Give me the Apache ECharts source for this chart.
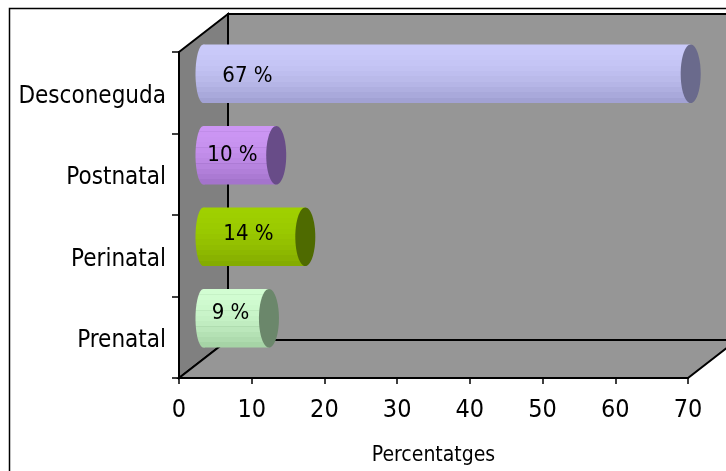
<!DOCTYPE html>
<html>
<head>
<meta charset="utf-8">
<script src="https://cdn.jsdelivr.net/npm/echarts@6/dist/echarts.min.js"></script>
<style>
  html, body { margin: 0; padding: 0; background: #ffffff; }
  #chart { width: 726px; height: 471px; }
</style>
</head>
<body>
<div id="chart"></div>
<script>
// Categories listed bottom to top, as the value axis stacks them.
const categories = ['Prenatal', 'Perinatal', 'Postnatal', 'Desconeguda'];
const percentages = [9, 14, 10, 67];
const xTickValues = [0, 10, 20, 30, 40, 50, 60, 70];
const axisTitle = 'Percentatges';

// Cylinder colours per category: [top of body, bottom of body, end cap]
const barColors = [
  ['#d2fdd2', '#a6d4a6', '#6b876b'],
  ['#9fd000', '#84ac00', '#4e6a00'],
  ['#cc96f4', '#a474cc', '#684c88'],
  ['#cacafa', '#a2a2d4', '#6a6a8c']
];
// Where each value label sits, measured from the foot of its bar.
const labelShift = [[27, -5], [45, -2], [29, 0], [44, 3]];

const FONT = '"DejaVu Sans Condensed", "Noto Sans", sans-serif';
const DEPTH = [49, -38];          // 3D depth offset of the back wall
const CAP_RX = 10;                // horizontal radius of the cylinder ends

function hexToRgb(h) {
  const n = parseInt(h.slice(1), 16);
  return [(n >> 16) & 255, (n >> 8) & 255, n & 255];
}
function mix(a, b, t) {
  const A = hexToRgb(a), B = hexToRgb(b);
  return 'rgb(' + A.map((c, k) => Math.round(c + (B[k] - c) * t)).join(',') + ')';
}
// Faceted vertical shading for a cylinder body, with faint seams between facets.
function facetGradient(top, bottom) {
  const n = 11, stops = [];
  for (let k = 0; k < n; k++) {
    let t = k / (n - 1);
    t = t * t * 0.8 + t * 0.2;
    const c = mix(top, bottom, t);
    const seam = mix(top, bottom, Math.min(1, t + 0.25));
    const a = k / n, b = (k + 1) / n;
    stops.push({ offset: a, color: k % 3 === 1 ? seam : c });
    stops.push({ offset: a + 0.01, color: k % 3 === 1 ? seam : c });
    stops.push({ offset: a + 0.011, color: c });
    stops.push({ offset: b - 0.001, color: c });
  }
  return new echarts.graphic.LinearGradient(0, 0, 0, 1, stops);
}

const chart = echarts.init(document.getElementById('chart'), null, { renderer: 'canvas' });

const option = {
  animation: false,
  backgroundColor: '#ffffff',
  grid: { left: 179, right: 38, top: 52, bottom: 93 },
  graphic: [{
    type: 'rect',
    shape: { x: 9.5, y: 8.5, width: 800, height: 500 },
    style: { fill: 'none', stroke: '#000', lineWidth: 1.5 },
    z: 0
  }],
  xAxis: {
    type: 'value',
    min: 0, max: 70, interval: 10,
    splitLine: { show: false },
    axisLine: { show: true, lineStyle: { color: '#000', width: 2 } },
    axisTick: { show: true, length: 6, lineStyle: { color: '#000', width: 1.5 } },
    axisLabel: {
      color: '#000', fontFamily: FONT, fontSize: 25, margin: 20,
      formatter: v => (xTickValues.indexOf(v) >= 0 ? String(v) : '')
    },
    name: axisTitle,
    nameLocation: 'middle',
    nameGap: 67,
    nameTextStyle: { color: '#000', fontFamily: FONT, fontSize: 21 },
    z: 5
  },
  yAxis: {
    type: 'category',
    data: categories,
    axisLine: { show: true, lineStyle: { color: '#000', width: 2 } },
    axisTick: { show: true, length: 7, lineStyle: { color: '#000', width: 1.5 } },
    axisLabel: {
      color: '#000', fontFamily: FONT, fontSize: 24, margin: 13,
      verticalAlign: 'top', lineHeight: 8
    },
    z: 5
  },
  series: [
    {
      // Floor, left side wall and back wall of the 3D box
      type: 'custom',
      silent: true,
      z: 1,
      data: [[0, 0]],
      encode: { x: 0, y: 1 },
      renderItem: function (params, api) {
        const band = api.size([0, 1])[1];
        const bl = api.coord([0, 0]);
        const left = bl[0];
        const bottom = bl[1] + band / 2;
        const top = api.coord([0, categories.length - 1])[1] - band / 2;
        const right = api.coord([70, 0])[0];
        const dx = DEPTH[0], dy = DEPTH[1];
        const edge = { stroke: '#000', lineWidth: 2, lineJoin: 'miter' };
        return {
          type: 'group',
          children: [
            {
              type: 'polygon',
              shape: { points: [[left + dx, top + dy], [right + dx, top + dy], [right + dx, bottom + dy], [left + dx, bottom + dy]] },
              style: Object.assign({ fill: '#969696' }, edge)
            },
            {
              type: 'polygon',
              shape: { points: [[left, top], [left + dx, top + dy], [left + dx, bottom + dy], [left, bottom]] },
              style: Object.assign({ fill: '#808080' }, edge)
            },
            {
              type: 'polygon',
              shape: { points: [[left, bottom], [left + dx, bottom + dy], [right + dx, bottom + dy], [right, bottom]] },
              style: Object.assign({ fill: '#969696' }, edge)
            }
          ]
        };
      }
    },
    {
      // Cylinder bars sitting halfway into the box depth
      type: 'custom',
      z: 3,
      data: percentages.map((v, i) => [i, v]),
      encode: { x: 1, y: 0 },
      renderItem: function (params, api) {
        const i = api.value(0);
        const v = api.value(1);
        const band = api.size([0, 1])[1];
        const start = api.coord([0, i]);
        const end = api.coord([v, i]);
        const ox = DEPTH[0] / 2, oy = DEPTH[1] / 2;
        const x0 = start[0] + ox, x1 = end[0] + ox, cy = start[1] + oy;
        const h = band * 0.72;
        const col = barColors[i];
        const body = facetGradient(col[0], col[1]);
        return {
          type: 'group',
          children: [
            {
              type: 'ellipse',
              shape: { cx: x0, cy: cy, rx: CAP_RX * 0.8, ry: h / 2 },
              style: { fill: body }
            },
            {
              type: 'rect',
              shape: { x: x0, y: cy - h / 2, width: x1 - x0, height: h },
              style: { fill: body }
            },
            {
              type: 'ellipse',
              shape: { cx: x1, cy: cy, rx: CAP_RX, ry: h / 2 },
              style: { fill: col[2] }
            },
            {
              type: 'text',
              style: {
                text: v + ' %',
                x: x0 + labelShift[i][0],
                y: cy + labelShift[i][1],
                align: 'center',
                verticalAlign: 'middle',
                fill: '#000',
                font: '22px ' + FONT
              },
              z2: 10
            }
          ]
        };
      }
    }
  ]
};

chart.setOption(option);
</script>
</body>
</html>
